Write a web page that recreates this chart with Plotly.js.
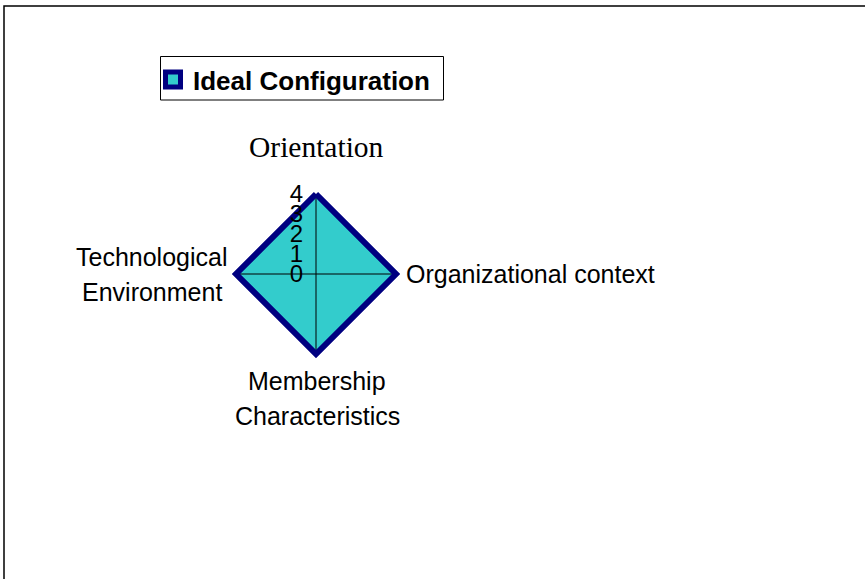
<!DOCTYPE html>
<html>
<head>
<meta charset="utf-8">
<script src="https://cdn.plot.ly/plotly-3.0.1.min.js"></script>
<style>
html,body{margin:0;padding:0;background:#fff;}
#chart{width:865px;height:579px;}
</style>
</head>
<body>
<div id="chart"></div>
<script>
// ---- data ----
const categories = ['Orientation', 'Organizational context', 'Membership Characteristics', 'Technological Environment'];
const categoryLabels = [['Orientation'], ['Organizational context'], ['Membership', 'Characteristics'], ['Technological', 'Environment']];
const seriesName = 'Ideal Configuration';
const seriesValues = [4, 4, 4, 4];
const radialTicks = [0, 1, 2, 3, 4];
const radialMax = 4.25;   // small headroom so the thick outline is not clipped

// ---- layout helpers (pixels) ----
const W = 865, H = 579;
const cx = 316, cy = 274, unitPx = 20;
const R = radialMax * unitPx;
const px = x => x / W;
const py = y => 1 - y / H;

const closedTheta = categories.concat([categories[0]]);
const closedR = seriesValues.concat([seriesValues[0]]);

// spokes (category axes) from centre to the top tick, drawn between fill and outline
const axisTop = Math.max(...radialTicks);
const spokeR = [], spokeTheta = [];
categories.forEach(c => { spokeR.push(0, axisTop, null); spokeTheta.push(c, c, c); });

const traces = [
  {
    type: 'scatterpolar', r: closedR, theta: closedTheta,
    mode: 'none', fill: 'toself', fillcolor: '#33CCCC',
    name: seriesName, showlegend: false, hoverinfo: 'skip'
  },
  {
    type: 'scatterpolar', r: spokeR, theta: spokeTheta,
    mode: 'lines', line: {color: '#000', width: 1}, connectgaps: false,
    showlegend: false, hoverinfo: 'skip'
  },
  {
    type: 'scatterpolar', r: closedR, theta: closedTheta,
    mode: 'lines', line: {color: '#000080', width: 6},
    name: seriesName, showlegend: false, hoverinfo: 'skip'
  },
  {
    type: 'scatterpolar', r: [null], theta: [categories[0]],
    mode: 'markers',
    marker: {symbol: 'square', size: 15, color: '#33CCCC', line: {color: '#000080', width: 6}},
    name: seriesName, showlegend: true
  }
];

const sans = 'Liberation Sans, Arial, sans-serif';
const labelStyle = [
  {x: cx, ys: [147], xanchor: 'center', family: 'Liberation Serif, Times New Roman, serif', size: 29.5},
  {x: 404, ys: [274], xanchor: 'left', family: sans, size: 25},
  {x: 317, ys: [381, 416], xanchor: 'center', family: sans, size: 25},
  {x: 152, ys: [257, 292], xanchor: 'center', family: sans, size: 25}
];

const annotations = [];
categoryLabels.forEach((lines, i) => {
  const s = labelStyle[i];
  lines.forEach((ln, j) => {
    annotations.push({
      text: ln, xref: 'paper', yref: 'paper', x: px(s.x), y: py(s.ys[j]),
      xanchor: s.xanchor, yanchor: 'middle', showarrow: false,
      font: {family: s.family, size: s.size, color: '#000'}
    });
  });
});

const layout = {
  width: W, height: H,
  margin: {l: 0, r: 0, t: 0, b: 0},
  paper_bgcolor: '#fff',
  plot_bgcolor: '#fff',
  showlegend: true,
  legend: {
    x: px(153), y: py(56), xanchor: 'left', yanchor: 'top',
    bgcolor: 'rgba(0,0,0,0)', borderwidth: 0,
    font: {family: sans, size: 26, color: '#000', weight: 'bold'}
  },
  polar: {
    domain: {x: [px(cx - R), px(cx + R)], y: [py(cy + R), py(cy - R)]},
    bgcolor: 'rgba(0,0,0,0)',
    gridshape: 'linear',
    radialaxis: {
      range: [0, radialMax], angle: 90, tickangle: 90,
      tickvals: radialTicks, ticktext: radialTicks.map(String),
      showgrid: false, showline: false,
      ticks: 'outside', ticklen: 4, tickcolor: 'rgba(0,0,0,0)', side: 'counterclockwise',
      tickfont: {family: sans, size: 24, color: '#000'},
      layer: 'above traces'
    },
    angularaxis: {
      type: 'category', categoryarray: categories,
      rotation: 90, direction: 'clockwise',
      showline: false, showgrid: false,
      showticklabels: false, ticks: ''
    }
  },
  annotations: annotations,
  shapes: [
    {
      type: 'rect', xref: 'paper', yref: 'paper',
      x0: px(4), x1: 1.02, y0: -0.02, y1: py(6),
      line: {color: '#000', width: 1.5}, fillcolor: 'rgba(0,0,0,0)', layer: 'below'
    },
    {
      type: 'rect', xref: 'paper', yref: 'paper',
      x0: px(160.5), x1: px(443.5), y0: py(100), y1: py(56.5),
      line: {color: '#000', width: 1}, fillcolor: '#fff', layer: 'below'
    }
  ]
};

Plotly.newPlot('chart', traces, layout, {staticPlot: true, displayModeBar: false});
</script>
</body>
</html>
